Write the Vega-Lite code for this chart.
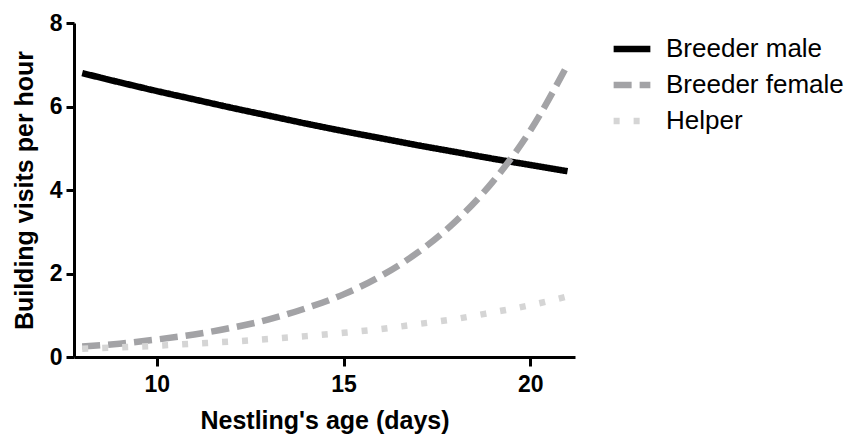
{
  "$schema": "https://vega.github.io/schema/vega-lite/v6.json",
  "autosize": "none",
  "width": 501,
  "height": 334,
  "padding": {"left": 74, "top": 23, "right": 281, "bottom": 79},
  "background": "white",
  "config": {
    "view": {"stroke": null},
    "font": "Liberation Sans"
  },
  "data": {
    "values": [
      {"age": 8, "visits": 6.80, "series": "Breeder male"},
      {"age": 9, "visits": 6.58, "series": "Breeder male"},
      {"age": 10, "visits": 6.37, "series": "Breeder male"},
      {"age": 11, "visits": 6.17, "series": "Breeder male"},
      {"age": 12, "visits": 5.97, "series": "Breeder male"},
      {"age": 13, "visits": 5.78, "series": "Breeder male"},
      {"age": 14, "visits": 5.59, "series": "Breeder male"},
      {"age": 15, "visits": 5.41, "series": "Breeder male"},
      {"age": 16, "visits": 5.24, "series": "Breeder male"},
      {"age": 17, "visits": 5.07, "series": "Breeder male"},
      {"age": 18, "visits": 4.91, "series": "Breeder male"},
      {"age": 19, "visits": 4.75, "series": "Breeder male"},
      {"age": 20, "visits": 4.60, "series": "Breeder male"},
      {"age": 21, "visits": 4.45, "series": "Breeder male"},
      {"age": 8, "visits": 0.25, "series": "Breeder female"},
      {"age": 9, "visits": 0.32, "series": "Breeder female"},
      {"age": 10, "visits": 0.42, "series": "Breeder female"},
      {"age": 11, "visits": 0.54, "series": "Breeder female"},
      {"age": 12, "visits": 0.70, "series": "Breeder female"},
      {"age": 13, "visits": 0.90, "series": "Breeder female"},
      {"age": 14, "visits": 1.17, "series": "Breeder female"},
      {"age": 15, "visits": 1.50, "series": "Breeder female"},
      {"age": 16, "visits": 1.94, "series": "Breeder female"},
      {"age": 17, "visits": 2.51, "series": "Breeder female"},
      {"age": 18, "visits": 3.25, "series": "Breeder female"},
      {"age": 19, "visits": 4.20, "series": "Breeder female"},
      {"age": 20, "visits": 5.42, "series": "Breeder female"},
      {"age": 21, "visits": 7.00, "series": "Breeder female"},
      {"age": 8, "visits": 0.20, "series": "Helper"},
      {"age": 9, "visits": 0.23, "series": "Helper"},
      {"age": 10, "visits": 0.27, "series": "Helper"},
      {"age": 11, "visits": 0.32, "series": "Helper"},
      {"age": 12, "visits": 0.37, "series": "Helper"},
      {"age": 13, "visits": 0.43, "series": "Helper"},
      {"age": 14, "visits": 0.50, "series": "Helper"},
      {"age": 15, "visits": 0.58, "series": "Helper"},
      {"age": 16, "visits": 0.67, "series": "Helper"},
      {"age": 17, "visits": 0.79, "series": "Helper"},
      {"age": 18, "visits": 0.91, "series": "Helper"},
      {"age": 19, "visits": 1.07, "series": "Helper"},
      {"age": 20, "visits": 1.24, "series": "Helper"},
      {"age": 21, "visits": 1.45, "series": "Helper"}
    ]
  },
  "mark": {"type": "line", "interpolate": "monotone", "strokeWidth": 6.5, "strokeCap": "butt"},
  "encoding": {
    "x": {
      "field": "age", "type": "quantitative",
      "scale": {"domain": [7.78, 21.2], "nice": false, "zero": false},
      "axis": {
        "values": [10, 15, 20], "grid": false, "title": "Nestling's age (days)",
        "domainColor": "black", "domainWidth": 3, "tickColor": "black", "tickWidth": 3, "tickSize": 9,
        "labelFont": "Liberation Sans", "labelFontSize": 23, "labelFontWeight": "bold", "labelColor": "black", "labelPadding": 7,
        "titleFont": "Liberation Sans", "titleFontSize": 25, "titleFontWeight": "bold", "titleColor": "black", "titlePadding": 12
      }
    },
    "y": {
      "field": "visits", "type": "quantitative",
      "scale": {"domain": [0, 8], "nice": false},
      "axis": {
        "values": [0, 2, 4, 6, 8], "grid": false, "title": "Building visits per hour",
        "domainColor": "black", "domainWidth": 3, "tickColor": "black", "tickWidth": 3, "tickSize": 8,
        "labelFont": "Liberation Sans", "labelFontSize": 23, "labelFontWeight": "bold", "labelColor": "black", "labelPadding": 4,
        "titleFont": "Liberation Sans", "titleFontSize": 25, "titleFontWeight": "bold", "titleColor": "black", "titlePadding": 12
      }
    },
    "color": {
      "field": "series", "type": "nominal",
      "scale": {"domain": ["Breeder male", "Breeder female", "Helper"], "range": ["#000000", "#a3a3a6", "#d5d5d5"]},
      "legend": {
        "title": null, "orient": "none", "legendX": 536, "legendY": 4,
        "symbolType": "stroke", "symbolSize": 1350, "symbolStrokeWidth": 6.5,
        "labelFont": "Liberation Sans", "labelFontSize": 26, "labelColor": "black", "labelOffset": 12, "labelLimit": 0,
        "rowPadding": 1
      }
    },
    "strokeDash": {
      "field": "series", "type": "nominal",
      "scale": {"domain": ["Breeder male", "Breeder female", "Helper"], "range": [[1, 0], [18, 8], [6, 14]]},
      "legend": {
        "title": null, "orient": "none", "legendX": 536, "legendY": 4,
        "symbolType": "stroke", "symbolSize": 1350, "symbolStrokeWidth": 6.5,
        "labelFont": "Liberation Sans", "labelFontSize": 26, "labelColor": "black", "labelOffset": 12, "labelLimit": 0,
        "rowPadding": 1
      }
    }
  }
}
